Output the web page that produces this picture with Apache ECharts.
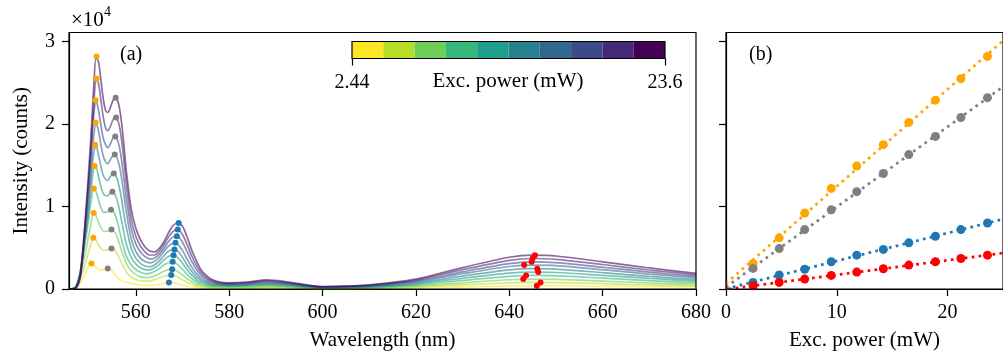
<!DOCTYPE html>
<html><head><meta charset="utf-8">
<script src="https://cdn.jsdelivr.net/npm/echarts@6.0.0/dist/echarts.min.js"></script>
<style>html,body{margin:0;padding:0;background:#fff}#c{width:1003px;height:356px}</style>
</head><body><div id="c"></div>
<script>
// ---------- data ----------
const wavelengths = [545.7, 547, 548, 548.5, 549, 549.5, 550, 550.5, 551, 551.5, 552, 552.5, 553, 553.5, 554, 554.5, 555, 555.5, 556, 556.5, 557, 557.5, 558, 559, 560, 561, 562, 563, 564, 565, 566, 567, 568, 569, 570, 571, 572, 573, 574, 575, 576, 578, 580, 584, 588, 592, 596, 600, 605, 610, 620, 630, 640, 645, 650, 660, 670, 680];
const spec_2_44 = [0, 0.008, 0.06, 0.11, 0.165, 0.23, 0.285, 0.31, 0.295, 0.265, 0.24, 0.23, 0.232, 0.242, 0.25, 0.24, 0.215, 0.18, 0.145, 0.12, 0.102, 0.088, 0.079, 0.067, 0.056, 0.048, 0.044, 0.043, 0.046, 0.053, 0.065, 0.079, 0.077, 0.063, 0.048, 0.036, 0.027, 0.021, 0.017, 0.014, 0.012, 0.009, 0.008, 0.01, 0.014, 0.012, 0.007, 0.004, 0.005, 0.007, 0.013, 0.026, 0.037, 0.04, 0.04, 0.034, 0.03, 0.025];
const spec_4_8 = [0, 0.015, 0.108, 0.19, 0.277, 0.37, 0.473, 0.57, 0.62, 0.59, 0.54, 0.497, 0.472, 0.47, 0.476, 0.488, 0.486, 0.468, 0.43, 0.375, 0.312, 0.26, 0.2, 0.146, 0.116, 0.10, 0.095, 0.099, 0.113, 0.134, 0.154, 0.165, 0.165, 0.143, 0.111, 0.082, 0.057, 0.04, 0.03, 0.023, 0.019, 0.016, 0.016, 0.017, 0.022, 0.018, 0.011, 0.006, 0.007, 0.01, 0.024, 0.051, 0.075, 0.08, 0.078, 0.064, 0.05, 0.037];
const spec_7_1 = [0, 0.016, 0.137, 0.254, 0.385, 0.518, 0.668, 0.82, 0.92, 0.887, 0.815, 0.747, 0.705, 0.70, 0.70, 0.716, 0.713, 0.688, 0.632, 0.552, 0.459, 0.381, 0.304, 0.222, 0.177, 0.147, 0.137, 0.14, 0.156, 0.184, 0.215, 0.235, 0.237, 0.212, 0.17, 0.125, 0.089, 0.062, 0.046, 0.035, 0.028, 0.024, 0.023, 0.025, 0.032, 0.026, 0.016, 0.009, 0.01, 0.015, 0.035, 0.075, 0.112, 0.12, 0.116, 0.096, 0.074, 0.055];
const spec_9_5 = [0, 0.021, 0.182, 0.338, 0.511, 0.688, 0.888, 1.09, 1.22, 1.178, 1.083, 0.99, 0.935, 0.93, 0.94, 0.96, 0.952, 0.91, 0.828, 0.712, 0.588, 0.489, 0.395, 0.293, 0.236, 0.203, 0.187, 0.189, 0.211, 0.247, 0.29, 0.319, 0.325, 0.296, 0.239, 0.177, 0.126, 0.087, 0.064, 0.048, 0.039, 0.033, 0.031, 0.034, 0.044, 0.036, 0.022, 0.012, 0.014, 0.02, 0.048, 0.104, 0.154, 0.164, 0.16, 0.132, 0.102, 0.076];
const spec_11_8 = [0, 0.013, 0.16, 0.333, 0.539, 0.75, 0.982, 1.24, 1.46, 1.47, 1.368, 1.25, 1.16, 1.133, 1.13, 1.166, 1.18, 1.15, 1.08, 0.962, 0.814, 0.672, 0.54, 0.387, 0.305, 0.258, 0.234, 0.232, 0.254, 0.296, 0.351, 0.394, 0.408, 0.381, 0.313, 0.233, 0.168, 0.114, 0.085, 0.063, 0.05, 0.042, 0.038, 0.043, 0.055, 0.045, 0.028, 0.015, 0.018, 0.025, 0.06, 0.13, 0.193, 0.205, 0.2, 0.165, 0.128, 0.095];
const spec_14_2 = [0, 0.012, 0.16, 0.347, 0.583, 0.83, 1.097, 1.395, 1.65, 1.74, 1.63, 1.494, 1.383, 1.333, 1.315, 1.357, 1.393, 1.387, 1.339, 1.23, 1.073, 0.892, 0.742, 0.50, 0.374, 0.311, 0.279, 0.27, 0.292, 0.337, 0.401, 0.457, 0.478, 0.458, 0.386, 0.292, 0.212, 0.145, 0.106, 0.078, 0.061, 0.05, 0.045, 0.051, 0.066, 0.054, 0.033, 0.018, 0.021, 0.03, 0.072, 0.156, 0.231, 0.246, 0.24, 0.198, 0.153, 0.114];
const spec_16_5 = [0, 0.011, 0.15, 0.351, 0.616, 0.902, 1.203, 1.539, 1.854, 2.01, 1.919, 1.761, 1.618, 1.547, 1.518, 1.561, 1.61, 1.631, 1.589, 1.49, 1.329, 1.125, 0.928, 0.616, 0.456, 0.375, 0.333, 0.317, 0.335, 0.382, 0.453, 0.52, 0.554, 0.54, 0.468, 0.363, 0.265, 0.184, 0.132, 0.097, 0.075, 0.06, 0.053, 0.06, 0.078, 0.064, 0.039, 0.021, 0.025, 0.036, 0.085, 0.185, 0.273, 0.29, 0.284, 0.234, 0.181, 0.135];
const spec_18_9 = [0, 0.012, 0.171, 0.398, 0.698, 1.023, 1.364, 1.746, 2.103, 2.28, 2.176, 1.998, 1.835, 1.754, 1.714, 1.753, 1.817, 1.849, 1.817, 1.722, 1.546, 1.323, 1.092, 0.741, 0.55, 0.448, 0.392, 0.365, 0.373, 0.418, 0.491, 0.573, 0.63, 0.635, 0.566, 0.453, 0.334, 0.237, 0.165, 0.122, 0.092, 0.066, 0.06, 0.068, 0.088, 0.072, 0.044, 0.024, 0.028, 0.04, 0.096, 0.208, 0.308, 0.33, 0.32, 0.264, 0.204, 0.152];
const spec_21_2 = [0, 0.005, 0.108, 0.316, 0.633, 0.994, 1.356, 1.763, 2.215, 2.54, 2.495, 2.305, 2.097, 1.962, 1.92, 1.964, 2.036, 2.081, 2.063, 1.973, 1.794, 1.543, 1.274, 0.857, 0.642, 0.522, 0.45, 0.412, 0.412, 0.455, 0.533, 0.628, 0.698, 0.72, 0.661, 0.538, 0.40, 0.286, 0.196, 0.145, 0.108, 0.076, 0.068, 0.077, 0.099, 0.081, 0.05, 0.027, 0.032, 0.045, 0.108, 0.234, 0.347, 0.37, 0.36, 0.297, 0.23, 0.171];
const spec_23_6 = [0, 0.005, 0.12, 0.35, 0.7, 1.1, 1.5, 1.95, 2.45, 2.8, 2.76, 2.55, 2.32, 2.17, 2.14, 2.19, 2.27, 2.32, 2.3, 2.2, 2.0, 1.72, 1.42, 0.98, 0.74, 0.6, 0.51, 0.46, 0.45, 0.49, 0.57, 0.68, 0.77, 0.8, 0.76, 0.63, 0.47, 0.34, 0.23, 0.17, 0.125, 0.085, 0.075, 0.085, 0.11, 0.09, 0.055, 0.03, 0.035, 0.05, 0.12, 0.26, 0.385, 0.41, 0.40, 0.33, 0.255, 0.19];

const powers = [2.44, 4.8, 7.1, 9.5, 11.8, 14.2, 16.5, 18.9, 21.2, 23.6];
const orangeWl = [550.5, 550.9, 551.0, 551.0, 551.2, 551.3, 551.4, 551.4, 551.6, 551.6];
const orangeVal = [0.31, 0.62, 0.92, 1.22, 1.49, 1.75, 2.02, 2.29, 2.55, 2.82];
const grayWl = [554.0, 554.8, 554.8, 554.7, 555.0, 555.3, 555.5, 555.6, 555.8, 555.7];
const grayVal = [0.25, 0.49, 0.72, 0.96, 1.18, 1.40, 1.63, 1.85, 2.08, 2.32];
const blueWl = [567.1, 567.6, 567.8, 567.9, 568.1, 568.3, 568.5, 568.8, 569.0, 569.2];
const blueVal = [0.08, 0.17, 0.24, 0.33, 0.41, 0.48, 0.56, 0.64, 0.72, 0.80];
const redWl = [645.9, 646.7, 643.0, 643.6, 646.2, 646.0, 643.2, 644.8, 645.0, 645.5];
const redVal = [0.04, 0.08, 0.12, 0.165, 0.205, 0.245, 0.29, 0.33, 0.37, 0.41];

// linear fits (endpoints) for panel (b)
const fitOrange = [[0, 0.067], [25, 3.01]];
const fitGray = [[0, 0.024], [25, 2.452]];
const fitBlue = [[0, 0.003], [25, 0.847]];
const fitRed = [[0.25, 0.0], [25, 0.436]];

const wlTicks = [560, 580, 600, 620, 640, 660, 680];
const intensityTicks = [0, 1, 2, 3];
const powerTicks = [0, 10, 20];
const colorbarTicks = [2.44, 23.6];

// ---------- styles ----------
const FONT = 'Liberation Serif';
const viridis = ['#fde725','#b5de2b','#6ece58','#35b779','#1f9e89','#26828e','#31688e','#3e4989','#482878','#440154'];
const C_OR = '#ffa500', C_GR = '#808080', C_BL = '#1f77b4', C_RD = '#ff0000';
const spectra = [spec_2_44, spec_4_8, spec_7_1, spec_9_5, spec_11_8, spec_14_2, spec_16_5, spec_18_9, spec_21_2, spec_23_6];

const lineBlack = {show: true, lineStyle: {color: '#000', width: 1.2}};
const tickStyle = (vals) => ({show: true, inside: false, length: 7, lineStyle: {color: '#000', width: 1.2}, customValues: vals});
const labelStyle = (vals, extra) => Object.assign({show: true, color: '#000', fontFamily: FONT, fontSize: 20, margin: 14, customValues: vals}, extra || {});
const nameStyle = {color: '#000', fontFamily: FONT, fontSize: 21};

const series = [];
spectra.forEach((s, i) => {
  series.push({
    type: 'line', xAxisIndex: 0, yAxisIndex: 0, silent: true,
    data: wavelengths.map((w, j) => [w, s[j]]),
    symbol: 'none', smooth: 0.3,
    lineStyle: {color: viridis[i], width: 1.7, opacity: 0.6}, z: 2
  });
});
const dotsA = [[orangeWl, orangeVal, C_OR], [grayWl, grayVal, C_GR], [blueWl, blueVal, C_BL], [redWl, redVal, C_RD]];
dotsA.forEach(([xs, ys, c]) => series.push({
  type: 'scatter', xAxisIndex: 0, yAxisIndex: 0, silent: true,
  data: xs.map((x, i) => [x, ys[i]]), symbolSize: 6, itemStyle: {color: c, opacity: 1}, z: 4
}));
const fits = [[fitOrange, C_OR], [fitGray, C_GR], [fitBlue, C_BL], [fitRed, C_RD]];
fits.forEach(([d, c]) => series.push({
  type: 'line', xAxisIndex: 1, yAxisIndex: 1, silent: true, data: d, symbol: 'none',
  lineStyle: {color: c, width: 2.7, type: [2.7, 4.3]}, z: 2
}));
const valsB = [[orangeVal, C_OR], [grayVal, C_GR], [blueVal, C_BL], [redVal, C_RD]];
valsB.forEach(([ys, c]) => series.push({
  type: 'scatter', xAxisIndex: 1, yAxisIndex: 1, silent: true,
  data: powers.map((p, i) => [p, ys[i]]), symbolSize: 9, itemStyle: {color: c, opacity: 1}, z: 4
}));
// colorbar
series.push({
  type: 'bar', xAxisIndex: 2, yAxisIndex: 2, silent: true, barCategoryGap: '0%',
  data: powers.map((p, i) => ({value: 1, itemStyle: {color: viridis[i]}})), z: 1
});

const option = {
  animation: false,
  backgroundColor: '#fff',
  title: [
    {text: '(a)', left: 120, top: 45, padding: 0, textStyle: {color: '#000', fontFamily: FONT, fontSize: 20, fontWeight: 'normal'}},
    {text: '(b)', left: 749, top: 45, padding: 0, textStyle: {color: '#000', fontFamily: FONT, fontSize: 20, fontWeight: 'normal'}},
    {text: '×10', left: 71, top: 10, padding: 0, textStyle: {color: '#000', fontFamily: FONT, fontSize: 21, fontWeight: 'normal'}},
    {text: '4', left: 104, top: 5, padding: 0, textStyle: {color: '#000', fontFamily: FONT, fontSize: 14, fontWeight: 'normal'}},
    {text: 'Exc. power (mW)', left: 508, top: 71, textAlign: 'center', padding: 0, textStyle: {color: '#000', fontFamily: FONT, fontSize: 21, fontWeight: 'normal'}}
  ],
  grid: [
    {left: 69, top: 32.5, width: 627, height: 258, show: true, borderColor: '#000', borderWidth: 1.2, z: 5},
    {left: 726, top: 32.5, width: 290, height: 258, show: true, borderColor: '#000', borderWidth: 1.2, z: 5},
    {left: 352, top: 41.5, width: 313, height: 17, show: true, borderColor: '#000', borderWidth: 1.2, z: 10}
  ],
  xAxis: [
    {type: 'value', gridIndex: 0, min: 545.7, max: 680, axisLine: lineBlack, axisTick: tickStyle(wlTicks),
      axisLabel: labelStyle(wlTicks), splitLine: {show: false},
      name: 'Wavelength (nm)', nameLocation: 'middle', nameGap: 41, nameTextStyle: nameStyle},
    {type: 'value', gridIndex: 1, min: 0, max: 25, axisLine: lineBlack, axisTick: tickStyle(powerTicks),
      axisLabel: labelStyle(powerTicks), splitLine: {show: false},
      name: 'Exc. power (mW)', nameLocation: 'middle', nameGap: 41, nameTextStyle: nameStyle},
    {type: 'category', gridIndex: 2, position: 'top', data: powers.map(String), axisLine: {show: false},
      axisTick: {show: false}, axisLabel: {show: false}, splitLine: {show: false}},
    {type: 'value', gridIndex: 2, position: 'bottom', min: 2.44, max: 23.6, axisLine: {show: false},
      axisTick: tickStyle(colorbarTicks), axisLabel: labelStyle(colorbarTicks, {formatter: v => String(v)}),
      splitLine: {show: false}, z: 10}
  ],
  yAxis: [
    {type: 'value', gridIndex: 0, min: 0, max: 3.11, axisLine: lineBlack, axisTick: tickStyle(intensityTicks),
      axisLabel: labelStyle(intensityTicks), splitLine: {show: false},
      name: 'Intensity (counts)', nameLocation: 'middle', nameGap: 37, nameTextStyle: nameStyle},
    {type: 'value', gridIndex: 1, min: 0, max: 3.11, axisLine: lineBlack, axisTick: tickStyle(intensityTicks),
      axisLabel: {show: false}, splitLine: {show: false}},
    {type: 'value', gridIndex: 2, min: 0, max: 1, axisLine: {show: false}, axisTick: {show: false},
      axisLabel: {show: false}, splitLine: {show: false}}
  ],
  series: series
};
const chart = echarts.init(document.getElementById('c'), null, {renderer: 'canvas'});
chart.setOption(option);
</script>
</body></html>
